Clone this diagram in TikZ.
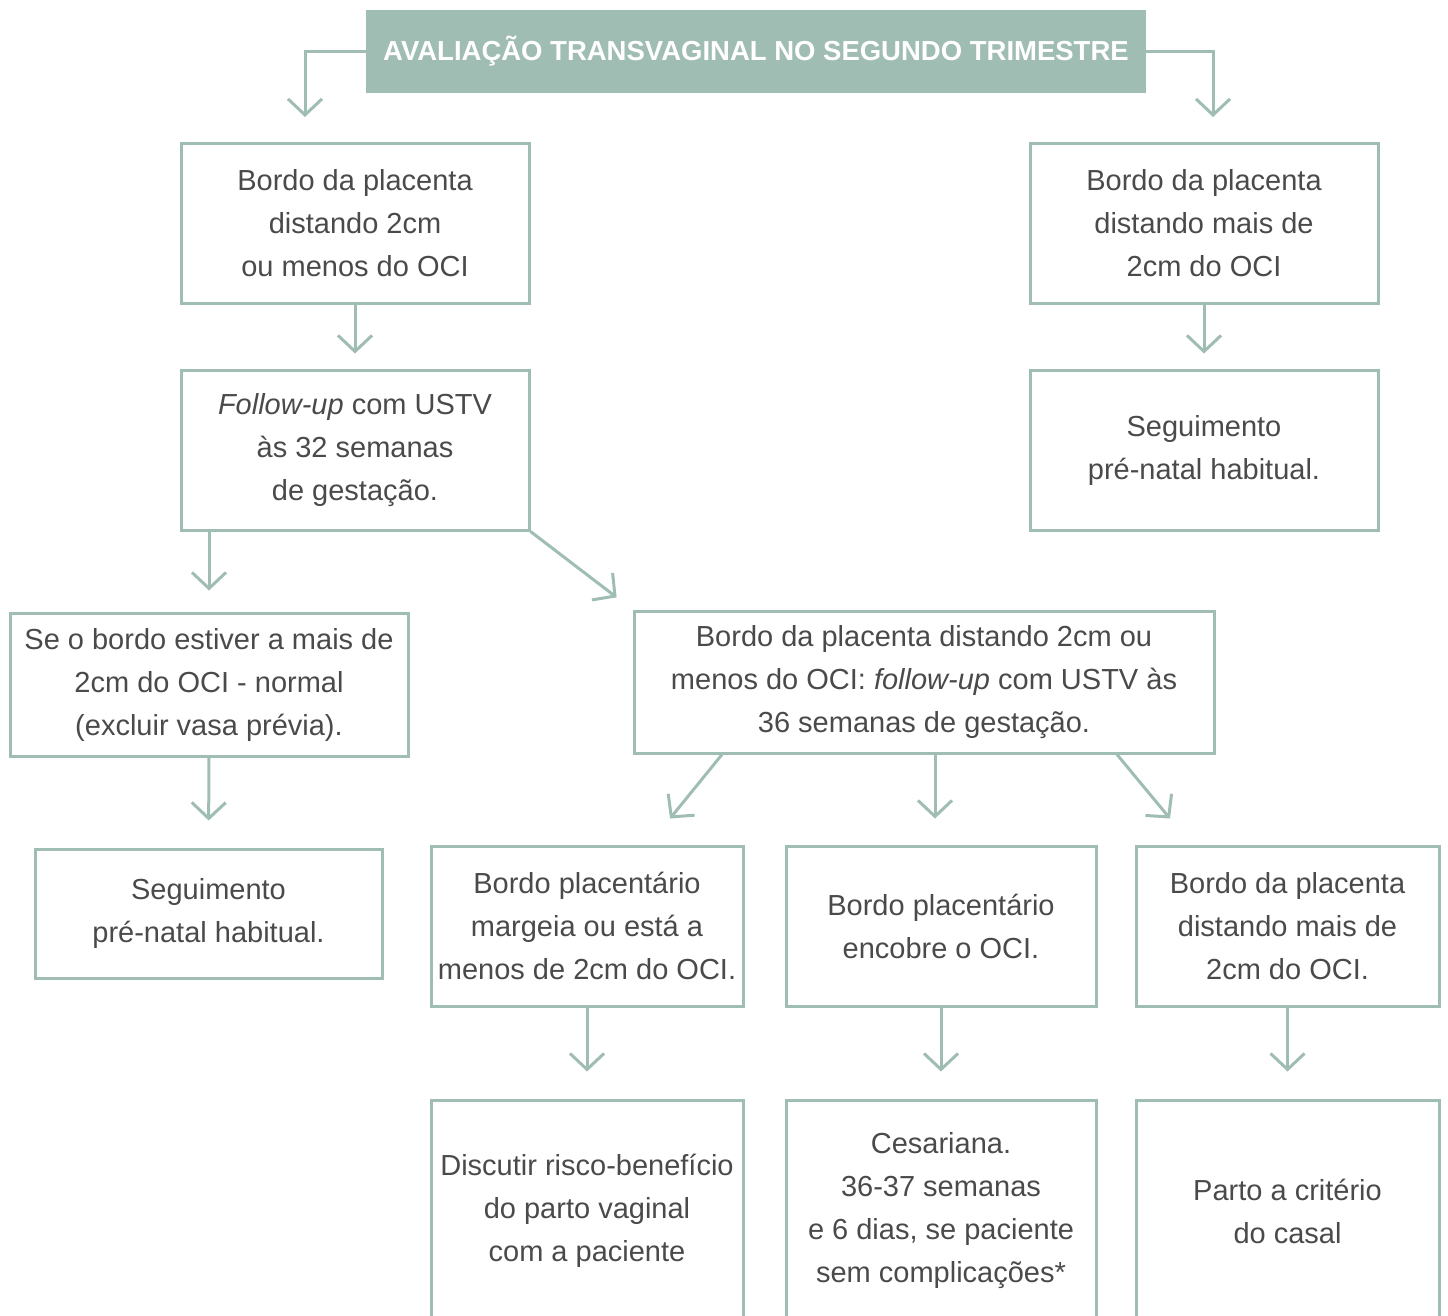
\documentclass[tikz,border=0pt]{standalone}
\usepackage{fontspec}
\setmainfont{Liberation Sans}
\usetikzlibrary{arrows.meta}
\definecolor{sage}{HTML}{A0BDB4}
\definecolor{ink}{HTML}{4A4A4A}
\tikzstyle{hbox}=[rectangle,fill=sage,text=white,inner sep=0pt,font=\bfseries\fontsize{27.5}{32}\selectfont]
\tikzstyle{sbox}=[rectangle,draw=sage,line width=3pt,inner sep=0pt,align=center,text=ink,font=\fontsize{29}{43}\selectfont]
\tikzstyle{flow}=[-{Straight Barb[length=16pt,width=34pt]},draw=sage,line width=3pt]

\begin{document}
\begin{tikzpicture}[x=1pt,y=-1pt]
\useasboundingbox (0,0) rectangle (1448,1315);
\clip (0,0) rectangle (1448,1315);
\node[hbox,minimum width=780pt,minimum height=83pt] (H) at (756,51.5) {AVALIAÇÃO TRANSVAGINAL NO SEGUNDO TRIMESTRE};
\node[sbox,minimum width=348pt,minimum height=160pt] (A1) at (355,223) {Bordo da placenta\\distando 2cm\\ou menos do OCI};
\node[sbox,minimum width=348pt,minimum height=160pt] (A2) at (1204,223) {Bordo da placenta\\distando mais de\\2cm do OCI};
\node[sbox,minimum width=348pt,minimum height=160pt] (B1) at (355,450) {\textit{Follow-up} com USTV\\às 32 semanas\\de gestação.};
\node[sbox,minimum width=348pt,minimum height=160pt] (B2) at (1204,450) {Seguimento\\pré-natal habitual.};
\node[sbox,minimum width=398pt,minimum height=143pt] (C1) at (209,684.5) {Se o bordo estiver a mais de\\2cm do OCI - normal\\(excluir vasa prévia).};
\node[sbox,minimum width=580pt,minimum height=142pt] (C2) at (924,682) {Bordo da placenta distando 2cm ou\\menos do OCI: \textit{follow-up} com USTV às\\36 semanas de gestação.};
\node[sbox,minimum width=347pt,minimum height=129pt] (D1) at (208.5,913.5) {Seguimento\\pré-natal habitual.};
\node[sbox,minimum width=312pt,minimum height=160pt] (D2) at (587,926) {Bordo placentário\\margeia ou está a\\menos de 2cm do OCI.};
\node[sbox,minimum width=310pt,minimum height=160pt] (D3) at (941,926) {Bordo placentário\\encobre o OCI.};
\node[sbox,minimum width=303pt,minimum height=160pt] (D4) at (1287.5,926) {Bordo da placenta\\distando mais de\\2cm do OCI.};
\node[sbox,minimum width=312pt,minimum height=222pt] (E1) at (587,1211) {Discutir risco-benefício\\do parto vaginal\\com a paciente};
\node[sbox,minimum width=310pt,minimum height=222pt] (E2) at (941,1211) {Cesariana.\\36-37 semanas\\e 6 dias, se paciente\\sem complicações*};
\node[sbox,minimum width=303pt,minimum height=222pt] (E3) at (1287.5,1211) {Parto a critério\\do casal};
\coordinate (L) at (305,117);
\coordinate (R) at (1213,117);
% connectors
\draw[flow] (H.west) -| (L);
\draw[flow] (H.east) -| (R);
\draw[flow,shorten >=15pt] (A1.south) -- (B1.north);
\draw[flow,shorten >=15pt] (A2.south) -- (B2.north);
\draw[flow,shorten >=21pt] (B1.south -| C1.north) -- (C1.north);
\draw[flow,shorten >=20pt] (B1.south east) -- (C2.north west);
\draw[flow,shorten >=27pt] (C1.south) -- (D1.north);
\draw[flow] ([xshift=-202pt]C2.south) -- ([xshift=83pt,yshift=26pt]D2.north);
\draw[flow] ([xshift=11pt]C2.south) -- ([xshift=-6pt,yshift=26pt]D3.north);
\draw[flow] ([xshift=193pt]C2.south) -- ([xshift=-117.5pt,yshift=26pt]D4.north);
\draw[flow,shorten >=27pt] (D2.south) -- (E1.north);
\draw[flow,shorten >=27pt] (D3.south) -- (E2.north);
\draw[flow,shorten >=27pt] (D4.south) -- (E3.north);
\end{tikzpicture}
\end{document}
